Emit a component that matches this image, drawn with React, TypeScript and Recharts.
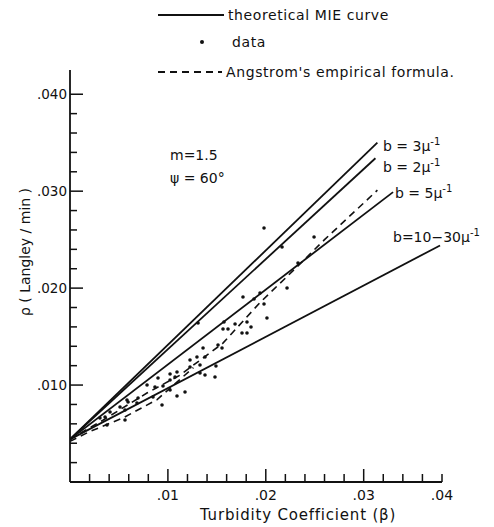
import { ComposedChart, Line, Scatter, XAxis, YAxis } from 'recharts';

// MIE theoretical curves (straight lines from a common origin)
const mieB3 = [{ x: 0, y: 0.0044 }, { x: 0.0314, y: 0.035 }];
const mieB2 = [{ x: 0, y: 0.0044 }, { x: 0.0312, y: 0.0334 }];
const mieB5 = [{ x: 0, y: 0.0044 }, { x: 0.033, y: 0.0299 }];
const mieB10 = [{ x: 0, y: 0.0044 }, { x: 0.0378, y: 0.0244 }];

// Angstrom's empirical formula (dashed)
const angstromUpper = [
    { x: 0, y: 0.0044 }, { x: 0.0034, y: 0.0064 }, { x: 0.0079, y: 0.0092 },
    { x: 0.0112, y: 0.011 }, { x: 0.0156, y: 0.0143 }, { x: 0.0194, y: 0.0185 },
    { x: 0.0232, y: 0.0222 }, { x: 0.026, y: 0.025 }, { x: 0.0314, y: 0.0301 },
];
const angstromLower = [
    { x: 0, y: 0.0042 }, { x: 0.002, y: 0.0052 }, { x: 0.0054, y: 0.0066 },
    { x: 0.0089, y: 0.0085 }, { x: 0.0126, y: 0.0118 },
];

// measured data
const measured = [
    { x: 0.01767, y: 0.01908 }, { x: 0.0188, y: 0.01888 }, { x: 0.01941, y: 0.0195 },
    { x: 0.01982, y: 0.01836 }, { x: 0.02217, y: 0.02001 }, { x: 0.02012, y: 0.01692 },
    { x: 0.01308, y: 0.0164 }, { x: 0.01573, y: 0.0165 }, { x: 0.01563, y: 0.01578 },
    { x: 0.01614, y: 0.01578 }, { x: 0.01686, y: 0.0163 }, { x: 0.01808, y: 0.0165 },
    { x: 0.01849, y: 0.01599 }, { x: 0.01757, y: 0.01537 }, { x: 0.01808, y: 0.01537 },
    { x: 0.01553, y: 0.01382 }, { x: 0.01512, y: 0.01413 }, { x: 0.01359, y: 0.01382 },
    { x: 0.01297, y: 0.01289 }, { x: 0.01226, y: 0.01259 }, { x: 0.01379, y: 0.01289 },
    { x: 0.01491, y: 0.01197 }, { x: 0.01481, y: 0.01083 }, { x: 0.01328, y: 0.01124 },
    { x: 0.01379, y: 0.01104 }, { x: 0.01226, y: 0.01186 }, { x: 0.01093, y: 0.01135 },
    { x: 0.01022, y: 0.01114 }, { x: 0.00899, y: 0.01073 }, { x: 0.01073, y: 0.01083 },
    { x: 0.01022, y: 0.01052 }, { x: 0.0095, y: 0.0099 }, { x: 0.00868, y: 0.0098 },
    { x: 0.00787, y: 0.01001 }, { x: 0.01175, y: 0.00928 }, { x: 0.01093, y: 0.00887 },
    { x: 0.01022, y: 0.00949 }, { x: 0.0094, y: 0.00794 }, { x: 0.00848, y: 0.00877 },
    { x: 0.00695, y: 0.00867 }, { x: 0.00684, y: 0.00815 }, { x: 0.00593, y: 0.00825 },
    { x: 0.00562, y: 0.00743 }, { x: 0.00511, y: 0.00774 }, { x: 0.00562, y: 0.0064 },
    { x: 0.00358, y: 0.00671 }, { x: 0.00378, y: 0.00588 }, { x: 0.00409, y: 0.00722 },
    { x: 0.00306, y: 0.0066 }, { x: 0.01982, y: 0.0262 }, { x: 0.02166, y: 0.02424 },
    { x: 0.02493, y: 0.02527 }, { x: 0.02329, y: 0.02259 }, { x: 0.01328, y: 0.01207 },
    { x: 0.00582, y: 0.00846 },
];

const xTicks = [
    0.002, 0.004, 0.006, 0.008, 0.01, 0.012, 0.014, 0.016, 0.018, 0.02,
    0.022, 0.024, 0.026, 0.028, 0.03, 0.032, 0.034, 0.036, 0.038,
];
const xMajor = [0.01, 0.02, 0.03];
const xTickLabels = [
    { value: 0.01, label: '.01' }, { value: 0.02, label: '.02' },
    { value: 0.03, label: '.03' }, { value: 0.038, label: '.04' },
];

const yTicks = [
    0.002, 0.004, 0.006, 0.008, 0.01, 0.012, 0.014, 0.016, 0.018, 0.02,
    0.022, 0.024, 0.026, 0.028, 0.03, 0.032, 0.034, 0.036, 0.038, 0.04,
];
const yTickLabels = [
    { value: 0.01, label: '.010' }, { value: 0.02, label: '.020' },
    { value: 0.03, label: '.030' }, { value: 0.04, label: '.040' },
];

const INK = '#111';
const FONT = '"DejaVu Sans", sans-serif';
const near = (a: number, b: number) => Math.abs(a - b) < 1e-6;

function XTick(props: any) {
    const { x, y, payload } = props;
    const major = xMajor.some(m => near(m, payload.value));
    const lab = xTickLabels.find(l => near(l.value, payload.value));
    return (
        <g>
            <line x1={x} x2={x} y1={y} y2={y - (major ? 13 : 8)} stroke={INK} strokeWidth={1.5} />
            {lab && (
                <text x={x} y={y + 18} textAnchor="middle" fontSize={14} fill={INK} fontFamily={FONT}>
                    {lab.label}
                </text>
            )}
        </g>
    );
}

function YTick(props: any) {
    const { x, y, payload } = props;
    const lab = yTickLabels.find(l => near(l.value, payload.value));
    return (
        <g>
            <line x1={x} x2={x + (lab ? 13 : 7)} y1={y} y2={y} stroke={INK} strokeWidth={1.5} />
            {lab && (
                <text x={x - 3} y={y + 5} textAnchor="end" fontSize={13.5} fill={INK} fontFamily={FONT}>
                    {lab.label}
                </text>
            )}
        </g>
    );
}

const dot = (p: any) => <circle cx={p.cx} cy={p.cy} r={1.8} fill={INK} />;

export default function App() {
    const sup = { fontSize: 10 };
    return (
        <div style={{ position: 'absolute', left: 0, top: 0, width: 494, height: 527, background: '#fff' }}>
            <ComposedChart width={494} height={527} margin={{ top: 70, right: 52, bottom: 15, left: 10 }}>
                <XAxis
                    type="number" dataKey="x" domain={[0, 0.038]} ticks={xTicks} interval={0}
                    height={30} tickSize={0} tickMargin={0} tickLine={false} tick={<XTick />}
                    axisLine={{ stroke: INK, strokeWidth: 1.8 }} allowDataOverflow
                />
                <YAxis
                    type="number" dataKey="y" domain={[0, 0.0425]} ticks={yTicks} interval={0}
                    width={60} tickSize={0} tickMargin={0} tickLine={false} tick={<YTick />}
                    axisLine={{ stroke: INK, strokeWidth: 1.8 }} allowDataOverflow
                />
                <Line data={mieB3} dataKey="y" stroke={INK} strokeWidth={1.8} dot={false} isAnimationActive={false} />
                <Line data={mieB2} dataKey="y" stroke={INK} strokeWidth={1.8} dot={false} isAnimationActive={false} />
                <Line data={mieB5} dataKey="y" stroke={INK} strokeWidth={1.8} dot={false} isAnimationActive={false} />
                <Line data={mieB10} dataKey="y" stroke={INK} strokeWidth={1.8} dot={false} isAnimationActive={false} />
                <Line data={angstromUpper} dataKey="y" stroke={INK} strokeWidth={1.6} strokeDasharray="7 5" dot={false} isAnimationActive={false} />
                <Line data={angstromLower} dataKey="y" stroke={INK} strokeWidth={1.6} strokeDasharray="7 5" dot={false} isAnimationActive={false} />
                <Scatter data={measured} dataKey="y" shape={dot} isAnimationActive={false} />
            </ComposedChart>

            <svg width={494} height={527} style={{ position: 'absolute', left: 0, top: 0, pointerEvents: 'none' }}
                fontFamily={FONT} fill={INK}>
                {/* legend */}
                <line x1={158} x2={224} y1={15} y2={15} stroke={INK} strokeWidth={1.8} />
                <text x={228} y={20} fontSize={14} letterSpacing={0.6}>theoretical MIE curve</text>
                <circle cx={202} cy={42} r={2} fill={INK} />
                <text x={232} y={47} fontSize={14} letterSpacing={0.6}>data</text>
                <line x1={158} x2={222} y1={72} y2={72} stroke={INK} strokeWidth={1.8} strokeDasharray="7 5" />
                <text x={226} y={77} fontSize={14} letterSpacing={0.6}>Angstrom's empirical formula.</text>

                {/* parameters */}
                <text x={170} y={160} fontSize={14}>m=1.5</text>
                <text x={170} y={183} fontSize={14}>ψ = 60°</text>

                {/* curve labels */}
                <text x={383} y={151} fontSize={14}>b = 3μ<tspan dy={-6} style={sup}>-1</tspan></text>
                <text x={383} y={172} fontSize={14}>b = 2μ<tspan dy={-6} style={sup}>-1</tspan></text>
                <text x={395} y={198} fontSize={14}>b = 5μ<tspan dy={-6} style={sup}>-1</tspan></text>
                <text x={393} y={242} fontSize={14}>b=10−30μ<tspan dy={-6} style={sup}>-1</tspan></text>

                {/* axis titles */}
                <text x={298} y={520} fontSize={15} letterSpacing={0.8} textAnchor="middle">Turbidity Coefficient (β)</text>
                <text transform="translate(30,252) rotate(-90)" fontSize={14} textAnchor="middle">ρ ( Langley / min )</text>
            </svg>
        </div>
    );
}
